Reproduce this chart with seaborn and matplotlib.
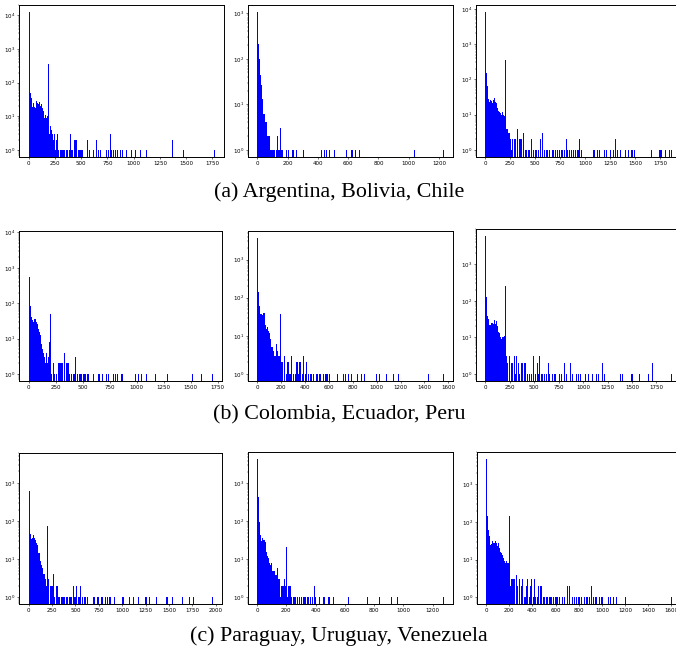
import numpy as np
import pandas as pd
import matplotlib
matplotlib.use("Agg")
import matplotlib.pyplot as plt
import seaborn as sns

# ---------------- data (counts per histogram bin, 200 bins on [0, max]) ----------------
# head: counts of consecutive bins starting at 0; tail: observed values with their counts
argentina_max = 1772
argentina_head = [13000, 150, 50, 34, 19, 24, 19, 18, 28, 24, 23, 27, 20, 23, 17, 16, 14, 9, 11, 9, 10, 355,
                  3, 5, 4, 3, 2, 3]
argentina_tail_x = [254, 260, 270, 283, 292, 302, 311, 324, 333, 343, 356, 365, 381, 391, 400, 413, 422, 435,
                    445, 451, 457, 470, 483, 492, 499, 511, 524, 562, 578, 619, 638, 673, 689, 743, 756, 781,
                    794, 807, 826, 848, 870, 889, 934, 975, 1013, 1029, 1064, 1118, 1366, 1372, 1477, 1772]
argentina_tail_n = [1, 2, 1, 3, 1, 1, 1, 1, 1, 1, 1, 1, 1, 3, 3, 1, 1, 2,
                    1, 1, 2, 1, 1, 1, 1, 1, 1, 2, 1, 1, 2, 1, 1, 1, 1, 3,
                    1, 1, 1, 1, 1, 1, 1, 1, 1, 2, 1, 1, 1, 1, 1, 1]

bolivia_max = 1233
bolivia_head = [1090, 210, 100, 45, 26, 13, 6, 6, 4, 4, 2, 2, 2, 2, 1, 1, 1, 1, 1, 0, 1, 2, 1, 1, 3, 1, 1, 1]
bolivia_tail_x = [194, 206, 232, 239, 254, 305, 354, 422, 438, 449, 460, 475, 510, 590, 619, 623, 648, 676,
                  1041, 1233]
bolivia_tail_n = [1] * 20

chile_max = 1867
chile_head = [8300, 155, 65, 28, 23, 26, 25, 21, 26, 29, 23, 21, 20, 15, 13, 12, 11, 10, 12, 10, 9, 350,
              4, 4, 3, 3, 2]
chile_tail_x = [257, 267, 280, 290, 300, 323, 340, 350, 360, 380, 390, 407, 420, 433, 447, 463, 480, 500,
                513, 527, 540, 557, 573, 590, 607, 623, 640, 657, 673, 690, 707, 723, 740, 757, 773, 790,
                813, 830, 847, 863, 880, 897, 917, 930, 947, 963, 1073, 1083, 1093, 1123, 1147, 1193, 1217,
                1257, 1283, 1300, 1323, 1357, 1407, 1430, 1457, 1467, 1483, 1500, 1623, 1667, 1740, 1750,
                1773, 1807, 1840, 1867]
chile_tail_n = [2, 1, 2, 2, 2, 4, 2, 2, 2, 3, 2, 1, 1, 1, 1, 2, 1, 1,
                1, 1, 1, 2, 3, 1, 1, 1, 1, 1, 1, 1, 1, 1, 1, 1, 1, 1,
                2, 1, 1, 1, 1, 1, 1, 1, 2, 1, 1, 1, 1, 1, 1, 1, 1,
                1, 1, 2, 1, 1, 1, 1, 1, 1, 1, 1, 1, 1, 1, 1,
                1, 1, 1, 1]

colombia_max = 1706
colombia_head = [7200, 545, 81, 41, 33, 30, 35, 36, 30, 25, 19, 15, 13, 12, 7, 5, 4, 3, 2, 4, 2, 3, 8, 50]
colombia_tail_x = [207, 222, 232, 244, 260, 275, 284, 294, 306, 315, 328, 340, 352, 362, 371, 383, 399, 414,
                   423, 433, 445, 457, 476, 485, 494, 504, 513, 525, 541, 550, 599, 640, 655, 664, 686, 717,
                   738, 785, 803, 822, 853, 865, 986, 1017, 1044, 1085, 1174, 1285, 1434, 1511, 1601, 1706]
colombia_tail_n = [1, 2, 2, 1, 1, 2, 2, 2, 2, 2, 4, 1, 2, 2, 2, 1, 1, 1,
                   1, 3, 1, 1, 1, 1, 1, 1, 1, 1, 1, 1, 1, 1, 1, 1, 1, 1,
                   1, 1, 1, 1, 1, 1, 1, 1, 1, 1, 1, 1, 1, 1, 1, 1]

ecuador_max = 1563
ecuador_head = [3800, 145, 62, 38, 38, 35, 39, 39, 26, 19, 15, 17, 13, 12, 8, 5, 5, 4, 3, 3, 6, 4, 3, 3, 3, 37]
ecuador_tail_x = [210, 218, 233, 244, 252, 261, 272, 281, 289, 301, 309, 321, 332, 340, 349, 357, 366, 377,
                  389, 400, 409, 423, 437, 448, 460, 471, 494, 505, 519, 531, 542, 556, 576, 584, 593, 604,
                  678, 726, 740, 763, 792, 843, 871, 891, 999, 1027, 1084, 1138, 1146, 1183, 1433, 1563]
ecuador_tail_n = [2, 2, 3, 1, 2, 2, 1, 1, 3, 1, 1, 1, 2, 2, 1, 2, 2, 1,
                  3, 1, 2, 3, 1, 1, 1, 1, 1, 1, 1, 1, 2, 1, 1, 1, 1, 1,
                  1, 1, 1, 1, 1, 1, 1, 1, 1, 1, 1, 1, 1, 1, 1, 1]

peru_max = 1906
peru_head = [6000, 126, 39, 31, 22, 22, 25, 24, 23, 29, 23, 28, 19, 21, 14, 13, 10, 9, 10, 10, 11, 250]
peru_tail_x = [214, 228, 241, 255, 268, 282, 299, 309, 323, 336, 350, 363, 377, 391, 404, 418, 431, 452,
               469, 493, 506, 527, 547, 557, 574, 588, 605, 622, 639, 656, 673, 690, 707, 724, 758, 775,
               802, 819, 832, 870, 893, 927, 944, 978, 1022, 1056, 1097, 1138, 1155, 1192, 1216, 1376,
               1389, 1403, 1488, 1498, 1573, 1668, 1709, 1715, 1906]
peru_tail_n = [3, 2, 3, 2, 2, 2, 3, 1, 3, 2, 1, 2, 2, 1, 2, 2, 1, 1,
               1, 3, 1, 2, 1, 3, 1, 1, 1, 1, 2, 1, 1, 1, 1, 1, 1, 1,
               2, 1, 1, 2, 1, 1, 1, 1, 1, 1, 1, 1, 1, 2, 1, 1,
               1, 1, 1, 1, 1, 1, 1, 1, 1]

paraguay_max = 1965
paraguay_head = [4000, 630, 47, 33, 37, 42, 35, 31, 27, 24, 15, 15, 11, 9, 7, 6, 4, 4, 3, 2, 74]
paraguay_tail_x = [216, 227, 238, 248, 262, 273, 284, 298, 308, 319, 333, 348, 362, 376, 390, 404, 418, 433,
                   447, 461, 475, 489, 504, 518, 532, 546, 560, 571, 592, 603, 631, 688, 702, 741, 752, 777,
                   791, 823, 837, 865, 879, 918, 1007, 1014, 1078, 1106, 1121, 1170, 1255, 1266, 1291, 1372,
                   1475, 1486, 1539, 1645, 1727, 1762, 1965]
paraguay_tail_n = [3, 2, 2, 2, 2, 4, 1, 2, 2, 1, 1, 1, 1, 1, 1, 1, 1, 1,
                   1, 1, 2, 1, 1, 2, 1, 1, 2, 1, 1, 1, 1, 1, 1, 1, 1, 1,
                   1, 1, 1, 1, 1, 1, 1, 1, 1, 1, 1, 1, 1, 1, 1, 1,
                   1, 1, 1, 1, 1, 1, 1]

uruguay_max = 1278
uruguay_head = [4500, 430, 98, 44, 31, 36, 33, 32, 29, 29, 16, 12, 11, 8, 7, 8, 5, 5, 5, 4, 4, 6, 3, 3, 3, 1,
                2, 2, 2, 3, 2, 21]
uruguay_tail_x = [207, 211, 218, 224, 236, 243, 250, 259, 268, 279, 291, 305, 314, 321, 327, 341, 348, 355,
                  369, 378, 392, 398, 428, 456, 463, 488, 495, 522, 625, 639, 756, 838, 918, 962, 1278]
uruguay_tail_n = [1, 2, 2, 2, 1, 1, 1, 1, 1, 1, 1, 1, 1, 1, 1, 1, 1, 1,
                  1, 1, 2, 1, 1, 1, 1, 1, 1, 1, 1, 1, 1, 1, 1, 1, 1]

venezuela_max = 1603
venezuela_head = [4800, 148, 61, 42, 24, 26, 26, 31, 27, 28, 31, 28, 23, 27, 21, 16, 15, 13, 11, 9, 10, 8,
                  9, 8, 8, 142]
venezuela_tail_x = [209, 217, 226, 234, 243, 257, 266, 277, 294, 306, 317, 329, 340, 351, 360, 371, 380, 389,
                    400, 411, 423, 431, 443, 451, 466, 480, 494, 511, 523, 534, 546, 557, 569, 580, 594, 609,
                    623, 637, 660, 680, 703, 714, 751, 766, 780, 794, 809, 823, 851, 866, 880, 894, 909, 923,
                    943, 960, 980, 994, 1009, 1051, 1080, 1103, 1123, 1209, 1289, 1603]
venezuela_tail_n = [2, 3, 3, 3, 3, 4, 2, 2, 3, 2, 3, 1, 1, 2, 3, 1, 2, 2,
                    3, 1, 3, 1, 1, 2, 2, 2, 1, 1, 1, 1, 1, 1, 1, 1, 1, 1,
                    1, 1, 1, 1, 2, 2, 1, 1, 1, 1, 1, 1, 1, 1, 1, 1, 2, 1,
                    1, 1, 1, 1, 1, 1, 1, 1, 1, 1, 1, 1]

captions = ["(a) Argentina, Bolivia, Chile",
            "(b) Colombia, Ecuador, Peru",
            "(c) Paraguay, Uruguay, Venezuela"]

panels = [
    (argentina_max, argentina_head, argentina_tail_x, argentina_tail_n),
    (bolivia_max, bolivia_head, bolivia_tail_x, bolivia_tail_n),
    (chile_max, chile_head, chile_tail_x, chile_tail_n),
    (colombia_max, colombia_head, colombia_tail_x, colombia_tail_n),
    (ecuador_max, ecuador_head, ecuador_tail_x, ecuador_tail_n),
    (peru_max, peru_head, peru_tail_x, peru_tail_n),
    (paraguay_max, paraguay_head, paraguay_tail_x, paraguay_tail_n),
    (uruguay_max, uruguay_head, uruguay_tail_x, uruguay_tail_n),
    (venezuela_max, venezuela_head, venezuela_tail_x, venezuela_tail_n),
]

# ---------------- layout (pixels in a 676 x 649 canvas) ----------------
W, H = 676, 649
boxes = [
    (19.3, 224.0, 4.7, 156.7), (248.0, 453.3, 4.7, 156.7), (476.0, 681.0, 4.7, 156.7),
    (19.3, 222.3, 230.7, 380.7), (247.7, 453.3, 230.7, 380.7), (476.0, 681.0, 229.0, 380.7),
    (19.3, 221.7, 453.0, 604.3), (247.7, 453.3, 451.7, 604.3), (476.7, 681.0, 451.7, 604.3),
]
caption_baseline = [196.5, 419.5, 641.5]

fig = plt.figure(figsize=(W / 100, H / 100), dpi=100)
fig.patch.set_facecolor("white")

for (xmax, head, tail_x, tail_n), (x0, x1, yt, yb) in zip(panels, boxes):
    ax = fig.add_axes([x0 / W, 1 - yb / H, (x1 - x0) / W, (yb - yt) / H])
    edges = np.linspace(0, xmax, 201)
    w = edges[1] - edges[0]
    hx = [(i + 0.5) * w for i in range(len(head))]
    df = pd.DataFrame({"value": hx + list(tail_x), "count": list(head) + list(tail_n)})
    df = df[df["count"] > 0]
    sns.histplot(data=df, x="value", weights="count", bins=list(edges), ax=ax,
                 color="#0000ff", alpha=1, linewidth=0)
    ax.set_yscale("log")
    ax.tick_params(axis="both", which="major", labelsize=4.0, length=1.6, width=0.4, pad=1.2)
    ax.tick_params(axis="both", which="minor", length=0.9, width=0.3)
    L = np.log10(max(head))
    ax.set_ylim(10 ** (-0.05 * L), 10 ** (1.05 * L))
    xl = (-0.05 * xmax, 1.05 * xmax)
    ax.set_xlim(*xl)
    # keep only ticks whose position lies on the visible canvas
    ticks = [t for t in ax.get_xticks() if xl[0] <= t <= xl[1]]
    ticks = [t for t in ticks if (x0 + (t - xl[0]) / (xl[1] - xl[0]) * (x1 - x0)) <= W]
    ax.set_xticks(ticks)
    ax.set_xlim(*xl)
    ax.set_xlabel("")
    ax.set_ylabel("")
    for s in ax.spines.values():
        s.set_linewidth(0.7)
        s.set_color("black")

for txt, yb in zip(captions, caption_baseline):
    fig.text(339 / W, 1 - yb / H, txt, ha="center", va="baseline",
             family=["Liberation Serif", "DejaVu Serif"], fontsize=15.8)

fig.savefig("out.png", dpi=100, facecolor="white")
